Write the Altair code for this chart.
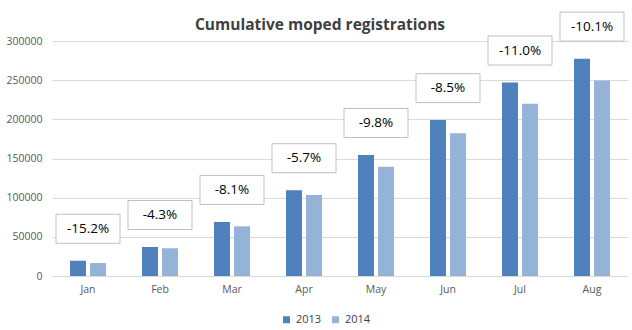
import altair as alt
import pandas as pd

months = ["Jan", "Feb", "Mar", "Apr", "May", "Jun", "Jul", "Aug"]
reg_2013 = [19500, 37000, 69000, 109500, 154500, 199000, 247000, 277500]
reg_2014 = [16500, 35400, 63400, 103300, 139400, 182100, 219800, 249500]
change_labels = ["-15.2%", "-4.3%", "-8.1%", "-5.7%", "-9.8%", "-8.5%", "-11.0%", "-10.1%"]

rows = []
for m, a, b in zip(months, reg_2013, reg_2014):
    rows.append({"month": m, "year": "2013", "value": a})
    rows.append({"month": m, "year": "2014", "value": b})
df = pd.DataFrame(rows)
lab = pd.DataFrame({"month": months, "value": reg_2013, "label": change_labels})

FONT = "Open Sans"
x = alt.X("month:N", sort=months, title=None,
          scale=alt.Scale(paddingInner=0, paddingOuter=0),
          axis=alt.Axis(labelAngle=0, ticks=False, domainColor="#d9d9d9",
                        labelColor="#595959", labelFontSize=10.5, labelFont=FONT,
                        labelPadding=8, grid=False))
y = alt.Y("value:Q", title=None,
          scale=alt.Scale(domain=[0, 300000], nice=False),
          axis=alt.Axis(values=[0, 50000, 100000, 150000, 200000, 250000, 300000],
                        format="d", ticks=False, domain=False, gridColor="#d9d9d9",
                        labelColor="#595959", labelFontSize=10.5, labelFont=FONT,
                        labelPadding=10, labelOverlap=False))

bars = alt.Chart(df).mark_bar().encode(
    x=x, y=y,
    xOffset=alt.XOffset("year:N", scale=alt.Scale(paddingInner=0.2, paddingOuter=0.9)),
    color=alt.Color("year:N", title=None,
                    scale=alt.Scale(domain=["2013", "2014"], range=["#4f81bd", "#95b3d7"]),
                    legend=alt.Legend(orient="none", legendX=229, legendY=273,
                                      direction="horizontal", symbolType="square",
                                      symbolSize=49, symbolStrokeWidth=0,
                                      labelFontSize=11, labelFont=FONT, labelColor="#404040",
                                      columnPadding=8, padding=0)),
)

box_shape = "M-1,-0.453H1V0.453H-1Z"
boxes = alt.Chart(lab).mark_point(
    shape=box_shape, size=4096, filled=True, fill="white", stroke="#bfbfbf",
    strokeWidth=1, opacity=1, yOffset=-32,
).encode(x=x, y=y)

texts = alt.Chart(lab).mark_text(
    fontSize=13.5, font=FONT, color="#000000", dy=-32, baseline="middle",
).encode(x=x, y=y, text="label:N")

chart = alt.layer(bars, boxes, texts).properties(
    width=576, height=235,
    title=alt.Title("Cumulative moped registrations", font=FONT, fontSize=15.5,
                    fontWeight="bold", color="#404040", anchor="middle", dx=-20, dy=27),
    autosize=alt.AutoSizeParams(type="none"),
    padding={"left": 52, "top": 41, "right": 4, "bottom": 54},
).configure_view(stroke=None).configure_axisY(labelOverlap=False)

chart.save("out.html", embed_options={"renderer": "svg", "actions": False})
